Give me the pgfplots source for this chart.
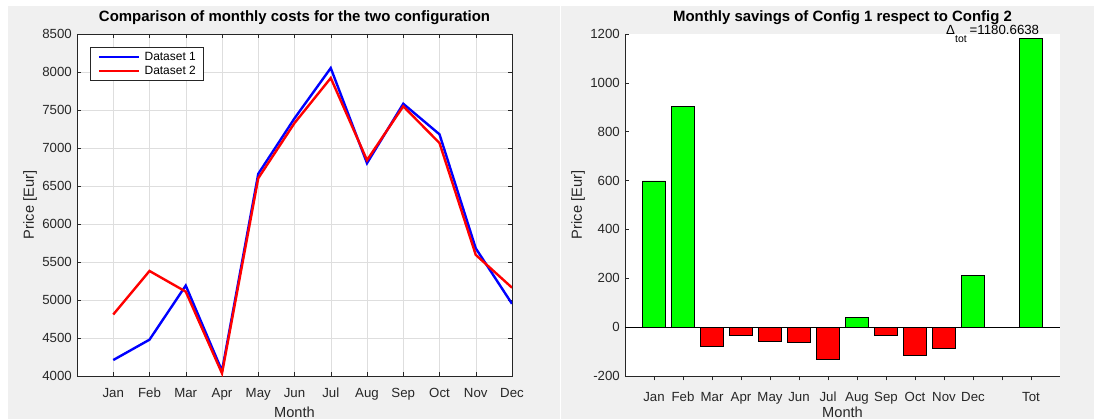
\documentclass[border=0pt]{standalone}
\usepackage{pgfplots}
\pgfplotsset{compat=1.18}
\usepackage{fontspec}
\setmainfont{Liberation Sans}
\definecolor{panel}{HTML}{F0F0F0}
\definecolor{axc}{HTML}{262626}
\definecolor{gridc}{HTML}{DEDEDE}
\definecolor{mgreen}{HTML}{00FF00}
\definecolor{mred}{HTML}{FF0000}
\definecolor{mblue}{HTML}{0000FF}
\newcommand{\tickfont}{\fontsize{13.3}{15}\selectfont}
\newcommand{\labfont}{\fontsize{14.67}{16}\selectfont}
\newcommand{\titfont}{\fontsize{15}{16}\selectfont}

\pgfplotstableread{
x d1 d2
1 4210 4809
2 4478 5382
3 5190 5110
4 4068 4035
5 6660 6602
6 7390 7328
7 8052 7921
8 6800 6840
9 7582 7549
10 7180 7065
11 5680 5594
12 4950 5162
}\costs

\pgfplotstableread{
x pos
1 598.5
2 904
8 40.5
12 212
14 1180.6638
}\gains

\pgfplotstableread{
x neg
3 -80
4 -33
5 -58
6 -62
7 -131
9 -33
10 -115
11 -86
}\losses

\pgfplotsset{
  matlabstyle/.style={
    scale only axis,
    axis background/.style={fill=white},
    axis line style={axc, line width=0.5bp},
    every tick/.style={axc, line width=0.5bp},
    tick align=inside,
    major tick length=4.4bp,
    tick label style={font=\tickfont, text=axc},
    xticklabel style={anchor=base, inner sep=0pt, yshift=-21bp},
    yticklabel style={anchor=east, inner sep=0pt, xshift=-5bp},
    title style={font=\bfseries\titfont, text=black, at={([yshift=7bp]axis description cs:0.5,1)}, anchor=base},
    xlabel style={font=\labfont, text=axc, at={([yshift=-41.5bp]axis description cs:0.5,0)}, anchor=base},
    ylabel style={font=\labfont, text=axc, at={([xshift=-47bp]axis description cs:0,0.5)}, anchor=center},
  }
}

\begin{document}
\begin{tikzpicture}[x=1bp,y=1bp]
\useasboundingbox (0,0) rectangle (1094,419);
\fill[white] (0,0) rectangle (1094,419);
\fill[panel] (8,0) rectangle (560,413);
\fill[panel] (561,0) rectangle (1094,413);

\begin{axis}[
  matlabstyle,
  at={(77bp,43bp)}, anchor=south west,
  width=435bp, height=342bp,
  xmin=0, xmax=12, ymin=4000, ymax=8500,
  xtick={1,...,12},
  xticklabels={Jan,Feb,Mar,Apr,May,Jun,Jul,Aug,Sep,Oct,Nov,Dec},
  ytick={4000,4500,5000,5500,6000,6500,7000,7500,8000,8500},
  yticklabels={4000,4500,5000,5500,6000,6500,7000,7500,8000,8500},
  grid=major,
  grid style={gridc, line width=0.5bp},
  title={Comparison of monthly costs for the two configuration},
  xlabel={Month},
  ylabel={Price [Eur]},
  legend style={at={(0.031,0.961)}, anchor=north west, draw=axc, line width=0.5bp,
    fill=white, font=\fontsize{12}{13}\selectfont, text=black,
    inner xsep=7bp, inner ysep=4.5bp, row sep=4bp,
    nodes={inner sep=0pt}},
  legend cell align=left,
  legend image code/.code={\draw[#1] (0bp,0bp) -- (40bp,0bp); \path (44.5bp,0bp);},
]
\addplot[mblue, line width=2.4bp] table[x=x, y=d1] {\costs};
\addlegendentry{Dataset 1}
\addplot[mred, line width=2.4bp] table[x=x, y=d2] {\costs};
\addlegendentry{Dataset 2}
\end{axis}

\begin{axis}[
  matlabstyle,
  at={(625bp,43bp)}, anchor=south west,
  width=435bp, height=342bp,
  axis x line*=bottom, axis y line*=left,
  axis line style={-, axc, line width=0.5bp},
  clip=false,
  xmin=0, xmax=15, ymin=-200, ymax=1200,
  xtick={1,...,14},
  xticklabels={Jan,Feb,Mar,Apr,May,Jun,Jul,Aug,Sep,Oct,Nov,Dec,{},Tot},
  ytick={-200,0,200,400,600,800,1000,1200},
  yticklabels={-200,0,200,400,600,800,1000,1200},
  title={Monthly savings of Config 1 respect to Config 2},
  xlabel={Month},
  ylabel={Price [Eur]},
  ybar, bar width=0.8, bar shift=0pt,
]
\draw[black, line width=0.6bp] (axis cs:0,0) -- (axis cs:15,0);
\addplot[fill=mgreen, draw=black, line width=0.6bp] table[x=x, y=pos] {\gains};
\addplot[fill=mred, draw=black, line width=0.6bp] table[x=x, y=neg] {\losses};
\node[anchor=base west, inner sep=0pt, font=\fontsize{13.3}{14}\selectfont, text=black]
  at (axis cs:11.07,1197) {Δ\raisebox{-7.5bp}{\fontsize{10.5}{11}\selectfont tot}\hspace{3bp}=1180.6638};
\end{axis}
\end{tikzpicture}
\end{document}
